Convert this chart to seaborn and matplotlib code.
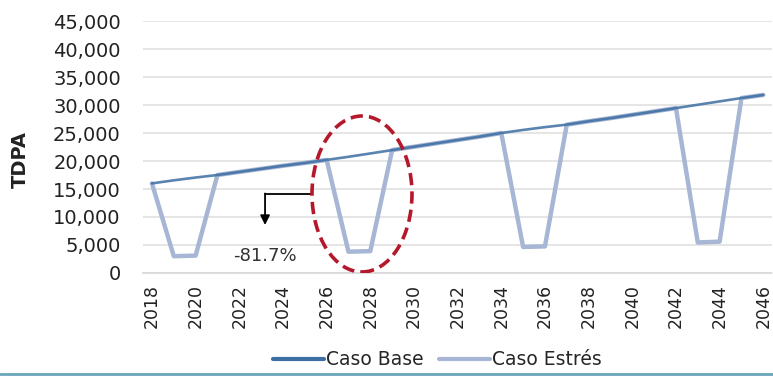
import matplotlib
matplotlib.use("Agg")
import matplotlib.pyplot as plt
import seaborn as sns
import pandas as pd
from matplotlib.patches import Ellipse
from matplotlib.lines import Line2D
from matplotlib.ticker import FuncFormatter

years = list(range(2018, 2047))
caso_base = [16000, 16550, 17050, 17500, 18050, 18600, 19150, 19650, 20200, 20750,
             21350, 21950, 22550, 23150, 23750, 24350, 25000, 25550, 26050, 26500,
             27100, 27650, 28250, 28850, 29450, 30050, 30650, 31250, 31800]
caso_estres = [16000, 3000, 3100, 17500, 18050, 18600, 19150, 19650, 20200, 3800,
               3900, 21950, 22550, 23150, 23750, 24350, 25000, 4650, 4750, 26500,
               27100, 27650, 28250, 28850, 29450, 5450, 5600, 31250, 31800]
series_names = ["Caso Base", "Caso Estrés"]
x_ticks = list(range(2018, 2047, 2))
y_ticks = list(range(0, 45001, 5000))
annotation_text = "-81.7%"
y_label = "TDPA"

df = pd.DataFrame({"year": years, "base": caso_base, "estres": caso_estres})

sns.set_theme(style="white")
plt.rcParams["font.family"] = ["DejaVu Sans"]

fig = plt.figure(figsize=(7.73, 3.76), dpi=100)
ax = fig.add_axes([0.185, 0.274, 0.814, 0.670])

c_base = "#3d6fa3"
c_str = "#a7b6d4"

sns.lineplot(data=df, x="year", y="estres", ax=ax, color=c_str, lw=3.2, zorder=3)
sns.lineplot(data=df, x="year", y="base", ax=ax, color=c_base, lw=1.9, alpha=0.85, zorder=4)

ax.set_xlim(2017.59, 2046.41)
ax.set_ylim(0, 45000)
ax.set_xticks(x_ticks)
ax.set_yticks(y_ticks)
ax.yaxis.set_major_formatter(FuncFormatter(lambda v, p: f"{int(v):,}"))
ax.tick_params(axis="y", labelsize=14, pad=16, length=0, colors="#222222")
ax.tick_params(axis="x", labelsize=12.5, pad=8, length=0, rotation=90, colors="#222222")
ax.set_xlabel("")
ax.set_ylabel("")
ax.grid(axis="y", color="#e0e0e0", lw=1.2)
ax.grid(axis="x", visible=False)
for s in ["top", "right", "left"]:
    ax.spines[s].set_visible(False)
ax.spines["bottom"].set_color("#d8d8d8")
ax.spines["bottom"].set_linestyle((0, (2, 1)))

fig.text(0.026, 0.577, y_label, rotation=90, ha="center", va="center",
         fontsize=14, fontweight="bold", color="#222222")

# red dashed ellipse
ell = Ellipse((2027.62, 14110), width=4.58, height=27860, fill=False,
              edgecolor="#b5172b", lw=2.6, ls=(0, (3.4, 1.7)), zorder=6)
ax.add_patch(ell)

# arrow
ax.plot([2025.33, 2023.18], [14110, 14110], color="black", lw=1.3, zorder=5)
ax.annotate("", xy=(2023.18, 8570), xytext=(2023.18, 14200),
            arrowprops=dict(arrowstyle="-|>", color="black", lw=1.3,
                            mutation_scale=14, shrinkA=0, shrinkB=0), zorder=5)
ax.text(2023.18, 3040, annotation_text, ha="center", va="center",
        fontsize=13, color="#333333", zorder=5)

handles = [Line2D([], [], color=c_base, lw=3), Line2D([], [], color=c_str, lw=3)]
fig.legend(handles, series_names, loc="center", bbox_to_anchor=(0.566, 0.043),
           ncol=2, frameon=False, fontsize=13.5, handlelength=2.7,
           handletextpad=0.15, columnspacing=0.8)

fig.add_artist(Line2D([0, 1], [0.005, 0.005], transform=fig.transFigure,
                      color="#6aa6ba", lw=2))

fig.savefig("out.png", dpi=100)
